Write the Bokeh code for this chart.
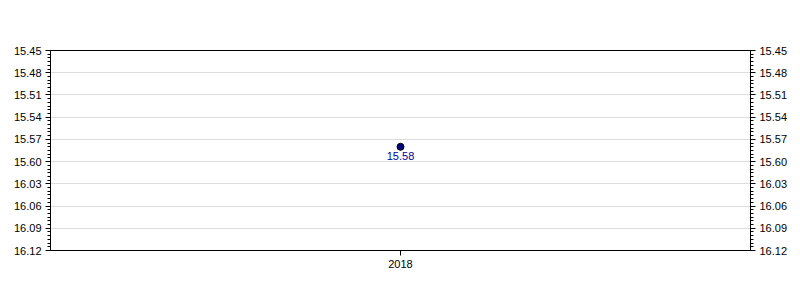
from bokeh.plotting import figure
from bokeh.models import (ColumnDataSource, Range1d, FactorRange, LinearAxis,
                          FixedTicker, LabelSet)
from bokeh.core.properties import value
from bokeh.embed import file_html
from bokeh.resources import INLINE

# Data
categories = ["2018"]
times_sec = [958]          # 15.58 -> 15 min 58 s
point_labels = ["15.58"]
tick_values = [945, 948, 951, 954, 957, 960, 963, 966, 969, 972]
tick_labels = ["15.45", "15.48", "15.51", "15.54", "15.57",
               "15.60", "16.03", "16.06", "16.09", "16.12"]

FONT = "Liberation Sans"

p = figure(width=800, height=300, output_backend="svg", toolbar_location=None,
           x_range=FactorRange(*categories),
           y_range=Range1d(start=tick_values[-1], end=tick_values[0]),
           min_border_left=50, min_border_right=50,
           min_border_top=50, min_border_bottom=50)

p.outline_line_color = "black"
p.outline_line_alpha = 1
p.background_fill_color = "white"
p.border_fill_color = "white"

src = ColumnDataSource(dict(x=categories, y=times_sec, label=point_labels))
p.scatter("x", "y", source=src, size=7, fill_color="#000080", line_color="black", line_width=1)
labels = LabelSet(x="x", y="y", text="label", source=src, y_offset=-5,
                  text_align="center", text_baseline="top",
                  text_font=value(FONT), text_font_size="11px", text_color="#0000A0")
p.add_layout(labels)

minor = [tick_values[0] + 0.5 * i for i in range(int((tick_values[-1] - tick_values[0]) * 2) + 1)]
ticker = FixedTicker(ticks=tick_values, minor_ticks=minor)
overrides = {v: l for v, l in zip(tick_values, tick_labels)}

def style_y(ax):
    ax.ticker = ticker
    ax.major_label_overrides = overrides
    ax.axis_line_color = "black"
    ax.major_tick_line_color = "black"
    ax.minor_tick_line_color = "black"
    ax.major_tick_out = 5
    ax.major_tick_in = 0
    ax.minor_tick_out = 3
    ax.minor_tick_in = 0
    ax.major_label_text_font = FONT
    ax.major_label_text_font_size = "11px"
    ax.major_label_text_color = "black"
    ax.major_label_standoff = 4

style_y(p.yaxis[0])
right = LinearAxis()
style_y(right)
p.add_layout(right, "right")

xa = p.xaxis[0]
xa.axis_line_color = "black"
xa.major_tick_line_color = "black"
xa.major_tick_out = 5
xa.major_tick_in = 0
xa.major_label_text_font = FONT
xa.major_label_text_font_size = "11px"
xa.major_label_text_color = "black"
xa.major_label_standoff = 4

p.xgrid.grid_line_color = None
p.ygrid.ticker = ticker
p.ygrid.grid_line_color = "#dddddd"

open("out.html", "w").write(file_html(p, INLINE))
